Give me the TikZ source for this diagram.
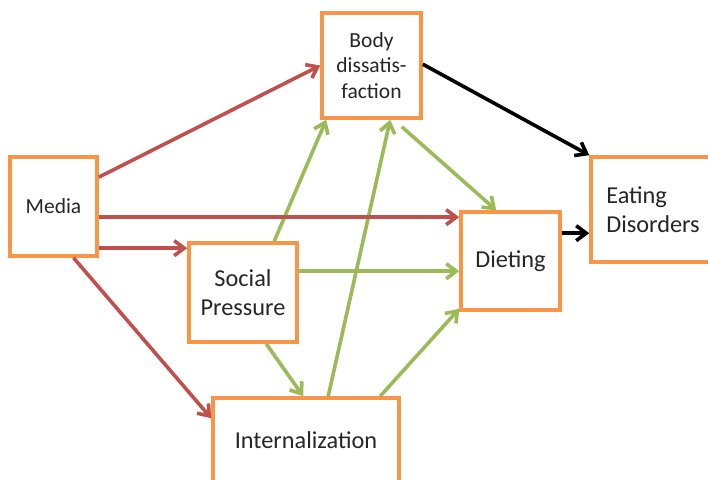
\documentclass[tikz,border=0pt]{standalone}
\usepackage{fontspec}
\setmainfont{Carlito}
\usetikzlibrary{arrows.meta}
\definecolor{boxorange}{HTML}{F79646}
\definecolor{arrred}{HTML}{C0504D}
\definecolor{arrgreen}{HTML}{9BBB59}
\tikzset{
  boxnode/.style={draw=boxorange, line width=3.6pt, fill=white, inner sep=0pt, align=center, text=black!85},
  bigtext/.style={font=\fontsize{24.3}{29}\selectfont},
  smalltext/.style={font=\fontsize{21.5}{25.5}\selectfont},
  conn/.style={line width=3.6pt, -{Straight Barb[length=10pt,width=15pt]}},
  redconn/.style={conn, draw=arrred},
  greenconn/.style={conn, draw=arrgreen},
  blackconn/.style={conn, draw=black}
}
\begin{document}
\begin{tikzpicture}[x=1pt,y=-1pt]
\clip (0,0) rectangle (708,479);
\fill[white] (0,0) rectangle (708,479);
\node[boxnode, smalltext, minimum width=87pt, minimum height=99pt] (media) at (53.5,206.5) {Media};
\node[boxnode, smalltext, minimum width=99pt, minimum height=105pt] (body) at (371.5,65.5) {Body\\dissatis-\\faction};
\node[boxnode, bigtext, minimum width=108pt, minimum height=99pt] (social) at (243,292.5) {Social\\Pressure};
\node[boxnode, bigtext, minimum width=99pt, minimum height=98pt] (dieting) at (510.5,261) {Dieting};
\node[boxnode, bigtext, align=left, minimum width=124pt, minimum height=105pt] (eating) at (653,209.5) {Eating\\Disorders};
\node[boxnode, bigtext, minimum width=186pt, minimum height=84pt] (internal) at (306,440) {Internalization};
% green connectors
\draw[greenconn] ([xshift=87pt]social.north west) -- ([xshift=6pt]body.south west);
\draw[greenconn] ([xshift=117pt]internal.north west) -- ([xshift=70pt]body.south west);
\draw[greenconn] ([xshift=-21pt,yshift=-7pt]body.south east) -- ([xshift=37pt]dieting.north west);
\draw[greenconn] ([yshift=-30pt]social.north east) -- ([yshift=-61pt]dieting.north west);
\draw[greenconn] ([xshift=169pt]internal.north west) -- ([yshift=3pt]dieting.south west);
\draw[greenconn] ([xshift=79pt]social.south west) -- ([xshift=92pt]internal.north west);
% red connectors
\draw[redconn] ([yshift=-22pt]media.north east) -- (body.west);
\draw[redconn] ([yshift=-62pt]media.north east) -- ([yshift=-7pt]dieting.north west);
\draw[redconn] ([yshift=-93pt]media.north east) -- ([yshift=-7pt]social.north west);
\draw[redconn] ([xshift=20pt]media.south) -- ([yshift=-22pt]internal.north west);
% black connectors
\draw[blackconn] ([yshift=-53pt]body.north east) -- (eating.north west);
\draw[blackconn] ([yshift=-23pt]dieting.north east) -- ([yshift=-78pt]eating.north west);
\end{tikzpicture}
\end{document}
